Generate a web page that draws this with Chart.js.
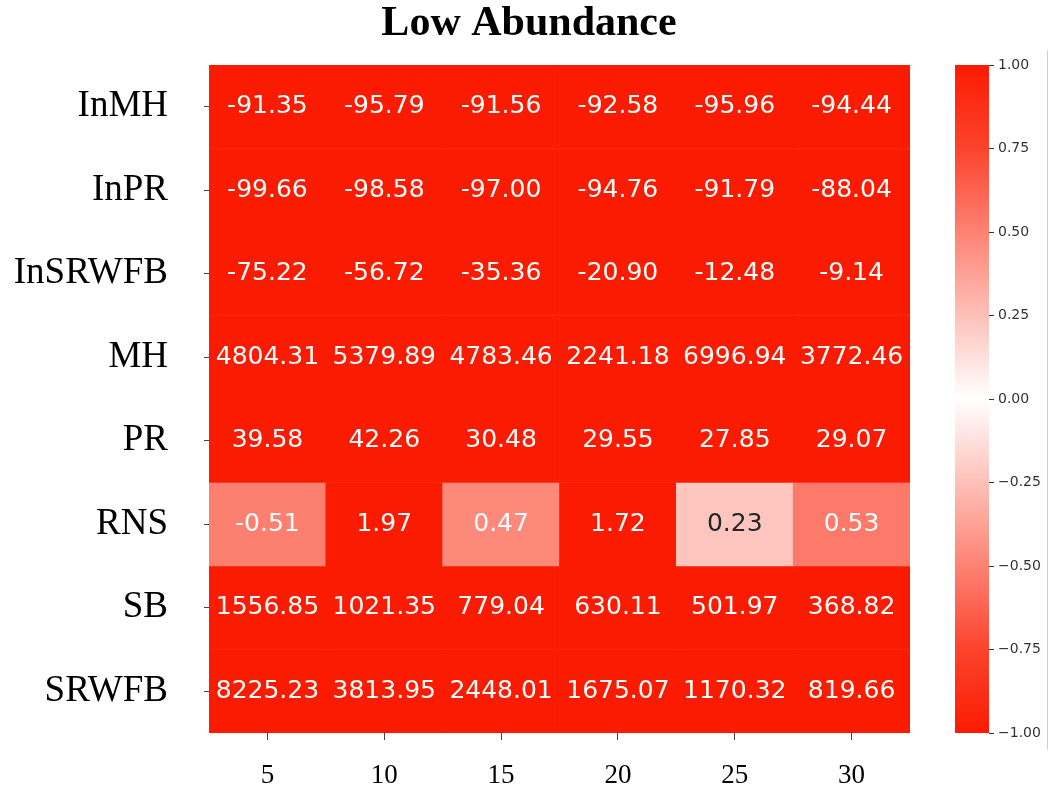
<!DOCTYPE html>
<html>
<head>
<meta charset="utf-8">
<title>Low Abundance</title>
<script src="https://cdn.jsdelivr.net/npm/chart.js@4/dist/chart.umd.min.js"></script>
<style>
    html, body { margin: 0; padding: 0; background: #fff; }
    #wrap { position: relative; width: 1058px; height: 808px; }
    #heatChart { position: absolute; left: 0; top: 0; }
    #barChart { position: absolute; left: 940px; top: 0; }
    #edge { position: absolute; left: 1047px; top: 50px; width: 1px; height: 700px; background: #cfcfcf; }
</style>
</head>
<body>
<div id="wrap">
    <canvas id="heatChart" width="1058" height="808"></canvas>
    <canvas id="barChart" width="118" height="808"></canvas>
    <div id="edge"></div>
</div>
<script>
var windowLabels = ['5', '10', '15', '20', '25', '30'];
var metricLabels = ['InMH', 'InPR', 'InSRWFB', 'MH', 'PR', 'RNS', 'SB', 'SRWFB'];

var inMH = [-91.35, -95.79, -91.56, -92.58, -95.96, -94.44];
var inPR = [-99.66, -98.58, -97.00, -94.76, -91.79, -88.04];
var inSRWFB = [-75.22, -56.72, -35.36, -20.90, -12.48, -9.14];
var mh = [4804.31, 5379.89, 4783.46, 2241.18, 6996.94, 3772.46];
var pr = [39.58, 42.26, 30.48, 29.55, 27.85, 29.07];
var rns = [-0.51, 1.97, 0.47, 1.72, 0.23, 0.53];
var sb = [1556.85, 1021.35, 779.04, 630.11, 501.97, 368.82];
var srwfb = [8225.23, 3813.95, 2448.01, 1675.07, 1170.32, 819.66];

var colorbarTicks = [-1, -0.75, -0.5, -0.25, 0, 0.25, 0.5, 0.75, 1];

(function() {
    'use strict';

    var RED = [251, 27, 0];
    var SERIF = '"Liberation Serif", "Times New Roman", serif';
    var SANS = '"DejaVu Sans", sans-serif';

    var rows = [inMH, inPR, inSRWFB, mh, pr, rns, sb, srwfb];

    function cellRgb(v) {
        // diverging map: red at both ends, white at zero, clipped to [-1, 1]
        var t = Math.min(1, Math.abs(v) * 1.1);
        return RED.map(function(c) {
            return Math.round(255 + (c - 255) * t);
        });
    }

    function toCss(rgb) {
        return 'rgb(' + rgb[0] + ',' + rgb[1] + ',' + rgb[2] + ')';
    }

    function luminance(rgb) {
        var lin = rgb.map(function(c) {
            c = c / 255;
            return c <= 0.03928 ? c / 12.92 : Math.pow((c + 0.055) / 1.055, 2.4);
        });
        return 0.2126 * lin[0] + 0.7152 * lin[1] + 0.0722 * lin[2];
    }

    var cellText = {
        id: 'cellText',
        afterDatasetsDraw: function(chart) {
            var ctx = chart.ctx;
            ctx.save();
            ctx.font = '25px ' + SANS;
            ctx.textAlign = 'center';
            ctx.textBaseline = 'middle';
            chart.data.datasets.forEach(function(ds, r) {
                var meta = chart.getDatasetMeta(r);
                meta.data.forEach(function(bar, i) {
                    var v = rows[r][i];
                    ctx.fillStyle = luminance(cellRgb(v)) > 0.408 ? '#262626' : '#ffffff';
                    ctx.fillText(v.toFixed(2), bar.x, (bar.y + bar.base) / 2);
                });
            });
            ctx.restore();
        }
    };

    var datasets = rows.map(function(values, r) {
        return {
            label: metricLabels[r],
            data: values.map(function() { return [r, r + 1]; }),
            grouped: false,
            barPercentage: 1,
            categoryPercentage: 1,
            borderWidth: 0,
            backgroundColor: function(c) {
                return toCss(cellRgb(values[c.dataIndex]));
            }
        };
    });

    new Chart(document.getElementById('heatChart'), {
        type: 'bar',
        data: { labels: windowLabels, datasets: datasets },
        plugins: [cellText],
        options: {
            responsive: false,
            animation: false,
            layout: { padding: 0 },
            plugins: {
                legend: { display: false },
                tooltip: { enabled: false },
                title: {
                    display: true,
                    text: 'Low Abundance',
                    color: '#000',
                    font: { family: SERIF, size: 42, weight: 'bold' },
                    padding: { top: -1, bottom: 15.6 }
                }
            },
            scales: {
                x: {
                    offset: true,
                    grid: { drawOnChartArea: false, drawTicks: true, tickLength: 7, color: '#444', offset: false },
                    border: { display: false },
                    ticks: { color: '#000', padding: 20, font: { family: SERIF, size: 27 } },
                    afterFit: function(scale) { scale.height = 75; }
                },
                y: {
                    min: 0,
                    max: 8,
                    reverse: true,
                    afterBuildTicks: function(scale) {
                        scale.ticks = metricLabels.map(function(name, i) {
                            return { value: i + 0.5 };
                        });
                    },
                    grid: { drawOnChartArea: false, drawTicks: true, tickLength: 5, color: '#444' },
                    border: { display: false },
                    ticks: {
                        color: '#000',
                        padding: 36,
                        font: { family: SERIF, size: 37 },
                        callback: function(value, index) { return metricLabels[index]; }
                    },
                    afterFit: function(scale) { scale.width = 209; }
                },
                spacer: {
                    position: 'right',
                    display: true,
                    grid: { display: false },
                    border: { display: false },
                    ticks: { display: false },
                    afterFit: function(scale) { scale.width = 148; }
                }
            }
        }
    });

    new Chart(document.getElementById('barChart'), {
        type: 'bar',
        data: {
            labels: [''],
            datasets: [{
                data: [[-1, 1]],
                barPercentage: 1,
                categoryPercentage: 1,
                backgroundColor: function(c) {
                    var area = c.chart.chartArea;
                    if (!area) return toCss(RED);
                    var g = c.chart.ctx.createLinearGradient(0, area.bottom, 0, area.top);
                    colorbarTicks.forEach(function(v) {
                        g.addColorStop((v + 1) / 2, toCss(cellRgb(v)));
                    });
                    return g;
                }
            }]
        },
        options: {
            responsive: false,
            animation: false,
            layout: { padding: { left: 15, top: 65, bottom: 75, right: 0 } },
            plugins: { legend: { display: false }, tooltip: { enabled: false } },
            scales: {
                x: { display: false },
                y: {
                    position: 'right',
                    min: -1,
                    max: 1,
                    afterBuildTicks: function(scale) {
                        scale.ticks = colorbarTicks.map(function(v) { return { value: v }; });
                    },
                    grid: { drawOnChartArea: false, drawTicks: true, tickLength: 5, color: '#333' },
                    border: { display: false },
                    ticks: {
                        color: '#333',
                        padding: 4,
                        font: { family: SANS, size: 14 },
                        callback: function(value) {
                            return value.toFixed(2).replace('-', '\u2212');
                        }
                    },
                    afterFit: function(scale) { scale.width = 69; }
                }
            }
        }
    });
}());
</script>
</body>
</html>
